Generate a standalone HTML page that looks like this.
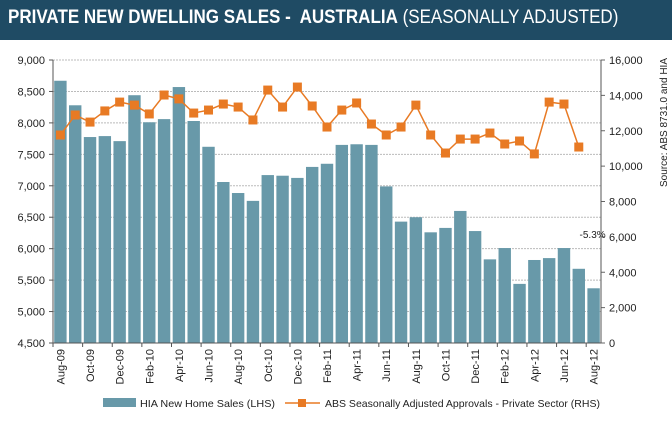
<!DOCTYPE html>
<html><head><meta charset="utf-8"><style>
body{margin:0;width:672px;height:425px;background:#fff;font-family:"Liberation Sans",sans-serif;overflow:hidden}
#title{position:absolute;left:0;top:0;width:672px;height:40px;background:#1f4b64;color:#fff;font-size:19px;line-height:36px;box-sizing:border-box;white-space:nowrap;overflow:hidden}
#title span{display:inline-block;transform-origin:0 50%;transform:scaleX(0.895);margin-left:8px}
</style></head><body>
<div id="title"><span><b>PRIVATE NEW DWELLING SALES -&nbsp; AUSTRALIA</b> (SEASONALLY ADJUSTED)</span></div>
<svg id="chart" width="672" height="425" style="position:absolute;left:0;top:0"></svg>
<script>
const months=["Aug-09","Sep-09","Oct-09","Nov-09","Dec-09","Jan-10","Feb-10","Mar-10","Apr-10","May-10","Jun-10","Jul-10","Aug-10","Sep-10","Oct-10","Nov-10","Dec-10","Jan-11","Feb-11","Mar-11","Apr-11","May-11","Jun-11","Jul-11","Aug-11","Sep-11","Oct-11","Nov-11","Dec-11","Jan-12","Feb-12","Mar-12","Apr-12","May-12","Jun-12","Jul-12","Aug-12"];
const hiaSales=[8670,8280,7775,7790,7710,8440,8010,8060,8570,8030,7620,7060,6885,6760,7170,7160,7125,7300,7350,7650,7660,7650,6990,6430,6500,6260,6330,6600,6280,5830,6010,5440,5820,5850,6010,5680,5370];
const absApprovals=[11760,12890,12490,13120,13620,13450,12950,14020,13800,13000,13170,13510,13340,12610,14300,13340,14470,13400,12210,13170,13570,12380,11760,12210,13450,11760,10740,11530,11530,11870,11250,11420,10690,13620,13510,11080];
const leftTicks=[4500,5000,5500,6000,6500,7000,7500,8000,8500,9000];
const rightTicks=[0,2000,4000,6000,8000,10000,12000,14000,16000];
const X0=53,X1=601,YT=60,YB=343;
const bw=(X1-X0)/months.length;
const yL=v=>YB-(v-4500)/4500*(YB-YT);
const yR=v=>YB-v/16000*(YB-YT);
const xC=i=>X0+bw*(i+0.5);
const svg=document.getElementById('chart');
const NS="http://www.w3.org/2000/svg";
function mk(t,a,txt){const e=document.createElementNS(NS,t);for(const k in a)e.setAttribute(k,a[k]);if(txt!=null)e.textContent=txt;svg.appendChild(e);return e;}
const fmt=v=>v.toLocaleString('en-US');
leftTicks.forEach(v=>{
 const g=mk('line',{x1:X0,x2:X1,y1:yL(v),y2:yL(v),stroke:'#bbb','stroke-dasharray':'2,1','stroke-width':1});
 
 const t=mk('text',{x:X0-8,y:yL(v)+4,'text-anchor':'end','font-size':11,fill:'#222'},fmt(v));
 
});
rightTicks.forEach(v=>{
 const t=mk('text',{x:X1+8,y:yR(v)+4,'text-anchor':'start','font-size':11,fill:'#222'},fmt(v));
 
 mk('line',{x1:X1,x2:X1+4,y1:yR(v),y2:yR(v),stroke:'#666'});
});
hiaSales.forEach((v,i)=>{
 const r=mk('rect',{x:xC(i)-6.2,y:yL(v),width:12.4,height:YB-yL(v),fill:'#6899a9'});
 
 
});
mk('line',{x1:X0,x2:X0,y1:YT,y2:YB,stroke:'#555'});
mk('line',{x1:X1,x2:X1,y1:YT,y2:YB,stroke:'#555'});
mk('line',{x1:X0,x2:X1,y1:YB,y2:YB,stroke:'#555'});
leftTicks.forEach(v=>mk('line',{x1:X0-4,x2:X0,y1:yL(v),y2:yL(v),stroke:'#555'}));
months.forEach((m,i)=>{
 if(i%2===0){
  mk('line',{x1:X0+bw*i,x2:X0+bw*i,y1:YB,y2:YB+4,stroke:'#555'});
  const t=mk('text',{x:0,y:0,'text-anchor':'end','font-size':11,fill:'#222',transform:`translate(${xC(i)+4},${YB+6}) rotate(-90)`},m);
  
 }
});
const pts=absApprovals.map((v,i)=>xC(i)+','+yR(v)).join(' ');
const pl=mk('polyline',{points:pts,fill:'none',stroke:'#e87a24','stroke-width':1.5});

absApprovals.forEach((v,i)=>{
 const r=mk('rect',{x:xC(i)-4.5,y:yR(v)-4.5,width:9,height:9,fill:'#e87a24'});
 
});
const ann=mk('text',{x:xC(36)-1,y:yL(6010)-10,'text-anchor':'middle','font-size':10,fill:'#222'},'-5.3%');

const src=mk('text',{x:0,y:0,'font-size':10,fill:'#222','text-anchor':'end',transform:'translate(667,58) rotate(-90)'},'Source: ABS 8731.0 and HIA');

const l1=mk('rect',{x:103,y:398,width:33,height:9,fill:'#6899a9'});

const t1=mk('text',{x:140,y:407,'font-size':10.5,fill:'#222',textLength:135,lengthAdjust:'spacingAndGlyphs'},'HIA New Home Sales (LHS)');

mk('line',{x1:285,x2:320,y1:403,y2:403,stroke:'#e87a24','stroke-width':1.5});
const l2=mk('rect',{x:298,y:399,width:8,height:8,fill:'#e87a24'});

const t2=mk('text',{x:325,y:407,'font-size':10.5,fill:'#222',textLength:275,lengthAdjust:'spacingAndGlyphs'},'ABS Seasonally Adjusted Approvals - Private Sector (RHS)');

</script>
</body></html>
